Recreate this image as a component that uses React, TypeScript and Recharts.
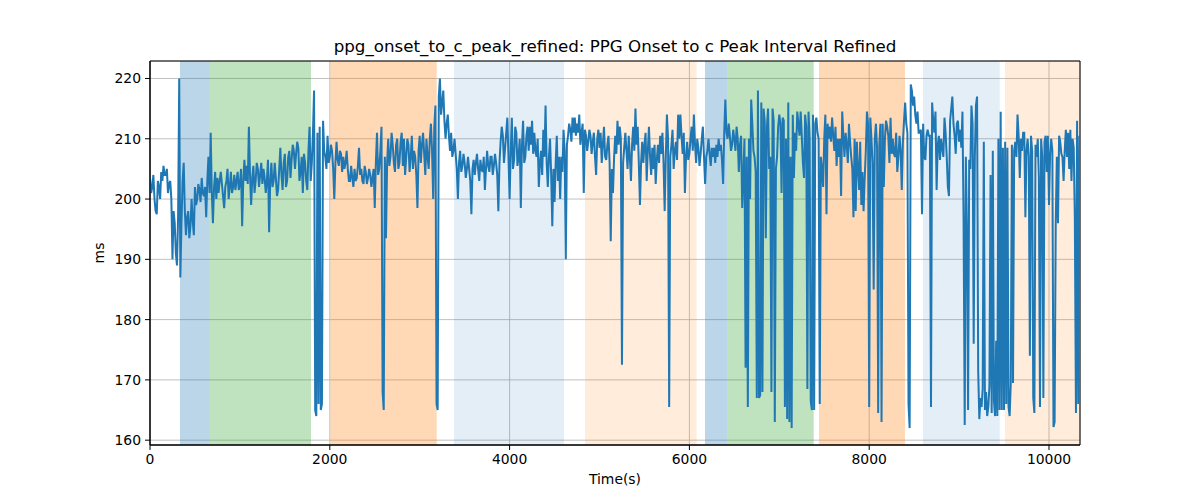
import { CartesianGrid, Line, LineChart, ReferenceArea, XAxis, YAxis } from "recharts";

// sample spacing of the recording, seconds
const STEP = 12.5;

// ms values, one block per 1000 s
const block0 = [
    203.5, 201, 202, 204, 200, 198, 197.5, 203, 202, 200, 204.5, 203, 205.5, 204, 204, 205, 201, 202.5, 203, 200,
    190, 198, 196, 191, 189, 197, 220, 187, 196, 203, 206, 198, 194, 197, 198, 193.5, 195.5, 200, 196.5, 194,
    202, 199, 200, 202.5, 201.5, 199.5, 203.5, 201, 200.5, 202, 197, 203, 207, 201, 211, 201, 196, 202, 204.5, 200,
    203.5, 201, 203, 204.5, 202.5, 200.5, 198.5, 202, 203, 205, 200, 202, 204.5, 201, 202, 204, 201.5, 203, 204.5, 201.5,
];
const block1 = [
    202.5, 205, 195.5, 203, 206.5, 203, 205.5, 202.5, 212, 204, 199, 203.5, 205.5, 201, 203, 206, 205, 202, 204, 206,
    202.5, 205, 203.5, 201, 203, 206.5, 194.5, 203, 206, 202, 203, 206, 203.5, 200.5, 201.5, 205, 208.5, 204, 201.5, 206,
    207.5, 202, 203, 207, 208, 203.5, 206.5, 209, 208, 205, 207.5, 209.5, 208.5, 203, 204.5, 207, 201, 207.5, 206, 203,
    201.5, 208, 212, 203, 206, 211, 218, 165, 164, 211, 166, 212, 165, 166, 213, 208, 207, 205, 210.5, 206,
];
const block2 = [
    207, 209, 208, 205, 200, 206, 209.5, 206.5, 205.5, 208, 207.5, 204.5, 207, 205, 206, 208, 205, 203, 203, 205.5,
    203.5, 202, 205, 203, 203.5, 205.5, 208.5, 204, 205, 203, 202.5, 205.5, 204.5, 202.5, 203.5, 205, 204, 202, 203.5, 205,
    198.5, 206, 211, 204, 205, 208, 212, 168, 165, 207, 193.5, 206, 210, 205.5, 207, 211, 209, 206, 204.5, 209,
    210, 205, 206, 209.5, 211, 205.5, 210, 204, 207, 210, 209, 204.5, 207, 210.5, 205, 208, 207, 204, 198.5, 208,
];
const block3 = [
    210.5, 206, 209, 211, 207.5, 204, 210, 207, 205, 210, 212.5, 208, 200, 212, 215.5, 166, 165, 217, 220, 214,
    216, 218, 213, 210, 212.5, 214, 210.5, 208, 211, 207, 208, 210, 207.5, 205, 200, 206, 208, 204.5, 205.5, 207.5,
    206, 203.5, 205, 207, 205, 203, 197.5, 205, 206.5, 204, 206, 207.5, 205, 203, 206.5, 205, 204.5, 207, 201.5, 205,
    208, 205.5, 204.5, 207, 207, 204, 205.5, 207.5, 206, 204, 198, 206, 209.5, 212, 210.5, 206, 208.5, 211, 213.5, 207,
];
const block4 = [
    200, 208, 213.5, 205, 206.5, 212, 211, 205.5, 207, 210, 198.5, 209, 213, 206, 207, 210.5, 212, 208, 212, 209,
    213, 207.5, 211, 208, 207, 210, 202, 206, 208, 204, 211.5, 207, 215.5, 206, 202, 207, 210, 204, 195.5, 205,
    199.5, 206, 210.5, 203, 207, 200, 207, 204.5, 211.5, 208, 190, 209, 210.5, 212.5, 211.5, 209.5, 213.5, 211, 213.5, 210.5,
    212.5, 211, 214, 209, 211, 212.5, 201, 211.5, 210.5, 208, 209.5, 211.5, 210.5, 207.5, 209.5, 211, 207, 204, 210, 211.5,
];
const block5 = [
    208.5, 211, 206, 209, 212, 207, 206.5, 209, 210.5, 206, 193, 205, 201, 207, 210.5, 207.5, 213, 209, 212, 210,
    172.5, 206, 208.5, 211, 208, 205, 210.5, 207, 203, 209, 212, 208, 215, 209, 212, 206, 199, 206, 209.5, 206,
    209, 211, 203, 208, 212, 207, 204, 208.5, 205, 209, 202.5, 206.5, 209, 206, 210.5, 207.5, 211, 206, 198, 207,
    214, 210, 165.5, 207, 209, 211.5, 205, 208, 209.5, 206.5, 214, 210, 214, 210.5, 207.5, 211, 201, 207, 209.5, 206.5,
];
const block6 = [
    207.5, 210, 212, 208, 214, 209, 206, 210, 208.5, 205.5, 207.5, 210, 212, 207, 202.5, 207, 208, 210, 207.5, 205.5,
    208.5, 207, 208.5, 206, 209, 207, 210, 208, 209, 206.5, 202.5, 211, 216.5, 211, 210, 212.5, 210.5, 208, 209, 211.5,
    210, 208, 212, 210, 204.5, 209, 210.5, 198.5, 204, 210, 172, 207, 165.5, 210, 200, 216.5, 212.5, 208, 207, 204.5,
    167, 218, 167, 167.5, 216, 168, 215, 213, 193.5, 212, 215, 205, 207, 168, 215, 213, 163, 205, 207, 212,
];
const block7 = [
    214, 212.5, 201, 213.5, 213, 165.5, 210, 163.5, 216, 163, 207, 162, 214, 203.5, 211, 208, 214.5, 212.5, 210.5, 214.5,
    210.5, 206, 203.5, 214, 212, 168.5, 214.5, 210, 166.5, 165, 214, 165, 212.5, 213.5, 211, 210, 166, 207, 205, 202,
    210, 214, 197.5, 212.5, 210, 212, 209.5, 213.5, 210.5, 208, 212, 205.5, 210, 207, 210, 200.5, 214.5, 210.5, 207, 211,
    209, 206, 212.5, 209.5, 207, 205, 197, 210, 198, 209.5, 205, 201.5, 209.5, 199, 204.5, 198, 203.5, 208, 214.5, 212.5,
];
const block8 = [
    165.5, 213.5, 210, 206, 185, 210, 212.5, 208.5, 164.5, 209, 212.5, 163, 212.5, 202, 210, 213, 212, 210.5, 206, 213.5,
    207.5, 210, 207.5, 207, 211, 204.5, 207, 210.5, 208, 201.5, 209.5, 213, 216, 212.5, 211, 166, 162, 219, 218, 215.5,
    217, 214, 212.5, 214.5, 211, 211, 211.5, 197.5, 212.5, 207, 206.5, 210.5, 211.5, 210.5, 210.5, 165.5, 216, 213, 211, 214.5,
    201.5, 209, 210.5, 206.5, 210, 208.5, 207, 213.5, 211, 207, 202, 200.5, 213, 215, 217, 212.5, 210.5, 207.5, 212.5, 213,
];
const block9 = [
    209.5, 211.5, 208.5, 214.5, 196.5, 162.5, 207, 195, 165, 206.5, 205, 215.5, 212.5, 176, 207, 215.5, 217, 171.5, 163.5, 167,
    165.5, 168.5, 209.5, 165, 168, 164, 165.5, 169, 204, 164.5, 208, 166.5, 164, 176.5, 164, 210, 165, 214.5, 165, 208.5,
    165, 209.5, 166, 208.5, 165.5, 164, 169.5, 209, 169.5, 208, 209.5, 207, 214, 210.5, 203.5, 210, 208, 211, 211, 197,
    208, 210, 207, 174, 210.5, 208, 167, 164.5, 209, 207, 210, 203.5, 165.5, 210, 207, 167, 209.5, 210.5, 204.5, 210.5,
];
const block10 = [
    199, 207.5, 210, 208, 162.2, 163, 196, 207, 196, 210.5, 209.5, 207.5, 207, 203, 208, 211.5, 207, 211, 205, 211.5,
    203, 210, 208.5, 197, 164.5, 213, 166, 210.5,
];

const values = [
    ...block0, ...block1, ...block2, ...block3, ...block4, ...block5,
    ...block6, ...block7, ...block8, ...block9, ...block10,
];
const data = values.map((v, i) => ({ t: i * STEP, v }));

// shaded phases, seconds
const phaseStart = [334, 664, 2006, 3382, 4839, 6174, 6422, 7442, 8598, 9511];
const phaseEnd = [664, 1791, 3189, 4605, 6081, 6422, 7383, 8398, 9452, 10345];
const phaseKind = ["a", "b", "c", "d", "e", "a", "b", "c", "d", "e"];

const xTicks = [0, 2000, 4000, 6000, 8000, 10000];
const yTicks = [160, 170, 180, 190, 200, 210, 220];

const X_MAX = 10345;
const Y_MIN = 159.2;
const Y_MAX = 222.9;

const phaseStyle: Record<string, { fill: string; opacity: number }> = {
    a: { fill: "#1f77b4", opacity: 0.3 },
    b: { fill: "#2ca02c", opacity: 0.3 },
    c: { fill: "#ff7f0e", opacity: 0.3 },
    d: { fill: "#1f77b4", opacity: 0.12 },
    e: { fill: "#ff7f0e", opacity: 0.15 },
};

const font = "'DejaVu Sans', sans-serif";
const tickStyle = { fill: "#000", fontSize: 13.9, fontFamily: font };

const App = () => {
    return (
        <div style={{ position: "absolute", left: 0, top: 0, width: 1200, height: 500, background: "#fff", fontFamily: font }}>
            <div
                style={{
                    position: "absolute",
                    left: 150,
                    width: 930,
                    top: 38,
                    textAlign: "center",
                    fontSize: 16.7,
                    lineHeight: 1,
                    color: "#000",
                }}
            >
                ppg_onset_to_c_peak_refined: PPG Onset to c Peak Interval Refined
            </div>
            <LineChart width={1200} height={500} data={data} margin={{ top: 61, right: 120, bottom: 25, left: 90 }}>
                <CartesianGrid stroke="#b0b0b0" strokeWidth={0.8} />
                {phaseStart.map((s, i) => (
                    <ReferenceArea
                        key={i}
                        x1={s}
                        x2={phaseEnd[i]}
                        y1={Y_MIN}
                        y2={Y_MAX}
                        fill={phaseStyle[phaseKind[i]].fill}
                        fillOpacity={phaseStyle[phaseKind[i]].opacity}
                        stroke="none"
                    />
                ))}
                <XAxis
                    dataKey="t"
                    type="number"
                    domain={[0, X_MAX]}
                    ticks={xTicks}
                    allowDataOverflow
                    height={30}
                    tickSize={5}
                    tickMargin={4}
                    tick={tickStyle}
                    stroke="#000"
                />
                <YAxis
                    type="number"
                    domain={[Y_MIN, Y_MAX]}
                    ticks={yTicks}
                    allowDataOverflow
                    width={60}
                    tickSize={5}
                    tickMargin={4}
                    tick={tickStyle}
                    stroke="#000"
                />
                <Line
                    type="linear"
                    dataKey="v"
                    stroke="#1f77b4"
                    strokeWidth={2}
                    dot={false}
                    activeDot={false}
                    isAnimationActive={false}
                />
                <ReferenceArea x1={0} x2={X_MAX} y1={Y_MIN} y2={Y_MAX} fill="none" stroke="#000" strokeWidth={1} />
            </LineChart>
            <div
                style={{
                    position: "absolute",
                    left: 150,
                    width: 930,
                    top: 473,
                    textAlign: "center",
                    fontSize: 13.9,
                    lineHeight: 1,
                    color: "#000",
                }}
            >
                Time(s)
            </div>
            <div
                style={{
                    position: "absolute",
                    left: 100,
                    top: 253,
                    transform: "translate(-50%, -50%) rotate(-90deg)",
                    fontSize: 13.9,
                    lineHeight: 1,
                    color: "#000",
                }}
            >
                ms
            </div>
        </div>
    );
};

export default App;
